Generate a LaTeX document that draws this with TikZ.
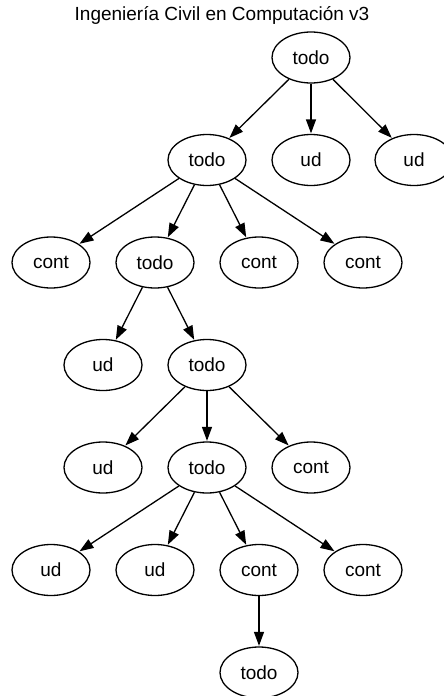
\documentclass[tikz,border=0pt]{standalone}
\usepackage{fontspec}
\setmainfont{Liberation Sans}
\usetikzlibrary{shapes.geometric,arrows.meta}
\tikzset{
  nd/.style={draw=black, ellipse, line width=1.3pt, minimum width=78pt, minimum height=51pt, inner sep=0pt, font=\fontsize{19}{22}\selectfont},
  edge/.style={draw=black, line width=1.3pt, -{Triangle[length=14pt,width=10pt]}, shorten >=0.5pt},
}
\begin{document}
\begin{tikzpicture}[x=1pt,y=-1pt]
\useasboundingbox (0,0) rectangle (444,696);
\node[font=\fontsize{19}{22}\selectfont] (title) at (222,15) {Ingeniería Civil en Computación v3};
\node[nd] (t1) at (311,57.5) {todo};
\node[nd] (t2) at (207,160) {todo};
\node[nd] (ua) at (311,160) {ud};
\node[nd] (ub) at (414,160) {ud};
\node[nd] (c1) at (51,262.5) {cont};
\node[nd] (t3) at (155,262.5) {todo};
\node[nd] (c2) at (259,262.5) {cont};
\node[nd] (c3) at (363,262.5) {cont};
\node[nd] (uc) at (103,365) {ud};
\node[nd] (t4) at (207,365) {todo};
\node[nd] (ud) at (103,467.5) {ud};
\node[nd] (t5) at (207,467.5) {todo};
\node[nd] (c4) at (311,467.5) {cont};
\node[nd] (ue) at (51,570) {ud};
\node[nd] (uf) at (155,570) {ud};
\node[nd] (c5) at (259,570) {cont};
\node[nd] (c6) at (363,570) {cont};
\node[nd] (t6) at (259,672.5) {todo};
\draw[edge] (t1) -- (t2);
\draw[edge] (t1) -- (ua);
\draw[edge] (t1) -- (ub);
\draw[edge] (t2) -- (c1);
\draw[edge] (t2) -- (t3);
\draw[edge] (t2) -- (c2);
\draw[edge] (t2) -- (c3);
\draw[edge] (t3) -- (uc);
\draw[edge] (t3) -- (t4);
\draw[edge] (t4) -- (ud);
\draw[edge] (t4) -- (t5);
\draw[edge] (t4) -- (c4);
\draw[edge] (t5) -- (ue);
\draw[edge] (t5) -- (uf);
\draw[edge] (t5) -- (c5);
\draw[edge] (t5) -- (c6);
\draw[edge] (c5) -- (t6);
\end{tikzpicture}
\end{document}
